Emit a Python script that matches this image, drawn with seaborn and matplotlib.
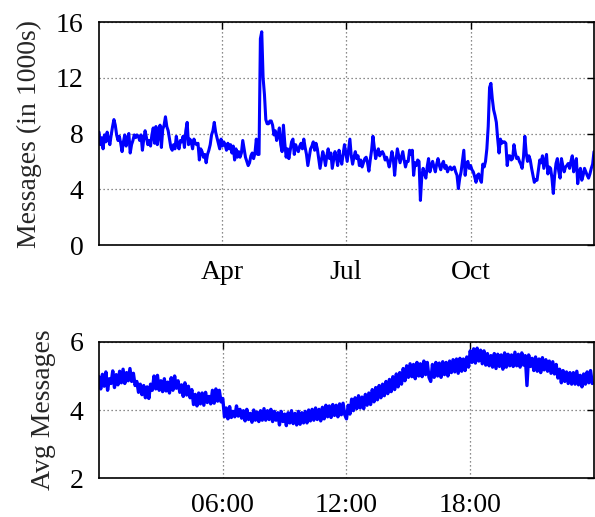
import numpy as np
import pandas as pd
import matplotlib
matplotlib.use('Agg')
import matplotlib.pyplot as plt
import matplotlib.dates as mdates
from matplotlib.ticker import FixedLocator, FuncFormatter
import seaborn as sns

sns.set_style('white')
plt.rcParams.update({
    "font.family": "Liberation Serif",
    "font.size": 20})


# daily message counts (in 1000s), Jan 1 to Dec 31
daily_msgs = [
    8.1, 7.2, 7.7, 6.9, 7.9, 7.4, 8.1, 7.6, 7.2, 7.9,
    8.5, 9.0, 8.6, 7.9, 7.5, 7.8, 7.3, 6.7, 7.4, 7.9,
    7.1, 7.6, 8.0, 6.6, 7.2, 7.5, 7.9, 7.7, 7.9, 7.8,
    7.5, 7.9, 6.8, 7.6, 8.2, 7.7, 7.2, 7.5, 7.1, 7.9,
    8.4, 7.3, 8.5, 7.2, 8.0, 8.6, 7.0, 8.3, 8.6, 9.2,
    8.5, 8.2, 7.6, 7.0, 6.8, 7.2, 6.9, 7.8, 7.2, 6.9,
    7.5, 7.4, 7.8, 7.0, 8.2, 8.8, 7.2, 7.6, 7.4, 6.9,
    7.6, 7.3, 7.2, 7.3, 6.1, 6.9, 6.7, 6.3, 6.5, 5.9,
    6.5, 6.8, 7.2, 7.9, 8.2, 8.8, 8.1, 7.7, 7.3, 6.9,
    7.6, 7.1, 7.4, 7.2, 6.8, 7.3, 6.9, 7.2, 6.6, 7.1,
    6.1, 6.9, 6.3, 6.7, 6.3, 6.6, 7.5, 6.9, 6.3, 6.0,
    5.7, 5.9, 6.4, 6.6, 6.2, 6.6, 7.6, 6.5, 6.5, 14.8,
    15.3, 12.0, 10.8, 9.0, 8.7, 8.7, 8.9, 8.9, 8.6, 7.9,
    8.2, 7.5, 7.9, 8.4, 7.2, 6.7, 8.6, 7.3, 6.3, 6.9,
    6.2, 6.8, 7.4, 7.6, 6.5, 7.2, 6.9, 6.7, 7.1, 7.3,
    6.9, 7.6, 7.0, 6.5, 5.7, 6.3, 6.9, 7.1, 7.4, 6.8,
    7.3, 6.9, 6.2, 5.5, 6.1, 6.7, 6.3, 5.7, 6.4, 6.9,
    6.2, 6.6, 5.5, 6.1, 6.7, 6.3, 5.7, 6.8, 6.2, 5.8,
    6.5, 7.2, 6.6, 6.0, 6.8, 7.6, 6.4, 5.8, 6.3, 6.7,
    6.2, 6.4, 5.7, 6.1, 5.6, 5.9, 6.2, 6.3, 5.9, 5.3,
    6.1, 6.8, 7.8, 7.0, 6.2, 6.6, 6.9, 6.4, 6.6, 6.7,
    6.5, 6.1, 6.3, 6.0, 5.6, 6.1, 6.7, 6.2, 5.0, 6.1,
    6.9, 6.4, 5.9, 6.3, 6.7, 6.1, 5.6, 6.0, 6.0, 6.8,
    6.5, 6.8, 5.0, 5.9, 5.7, 6.1, 6.0, 3.2, 4.9, 5.5,
    5.1, 4.8, 5.6, 6.2, 5.25, 5.7, 6.0, 5.6, 5.25, 5.8,
    6.2, 5.7, 5.4, 5.8, 6.0, 5.5, 5.7, 5.25, 5.5, 5.6,
    5.4, 5.5, 5.6, 5.25, 5.0, 4.05, 4.8, 5.25, 6.0, 6.8,
    5.0, 5.8, 6.0, 5.5, 5.7, 5.4, 5.25, 4.9, 4.5, 5.0,
    5.1, 4.7, 4.5, 5.8, 5.6, 6.0, 6.9, 8.5, 11.3, 11.6,
    10.5, 9.7, 9.3, 8.8, 7.6, 6.6, 7.6, 7.3, 7.4, 7.4,
    7.3, 5.7, 6.4, 6.4, 6.1, 6.2, 7.2, 6.6, 6.2, 6.3,
    6.0, 5.8, 5.5, 6.3, 7.8, 6.6, 6.0, 6.4, 6.1, 5.5,
    5.0, 4.5, 4.7, 4.65, 5.4, 6.1, 5.9, 6.4, 5.5, 6.0,
    6.5, 5.1, 5.6, 5.5, 4.8, 3.7, 5.0, 5.85, 6.2, 5.3,
    4.8, 6.2, 5.7, 5.25, 5.6, 5.7, 5.85, 5.5, 6.0, 6.4,
    5.25, 5.8, 6.2, 4.4, 5.2, 5.5, 4.65, 5.0, 5.5, 5.25,
    5.0, 4.8, 5.1, 5.5, 5.8, 6.7]
days = pd.date_range('2012-01-01', periods=len(daily_msgs), freq='D')

# average messages per 5 minutes over the day (one row per hour)
avg_msgs = [
    4.98, 4.62, 5.05, 4.70, 5.12, 4.58, 4.92, 4.78, 5.15, 4.66, 5.04, 4.74,
    5.14, 4.80, 5.20, 4.78, 5.10, 4.86, 5.22, 4.84, 5.08, 4.72, 4.84, 4.52,
    4.76, 4.45, 4.72, 4.36, 4.68, 4.34, 4.76, 4.58, 5.00, 4.62, 5.02, 4.58,
    4.86, 4.54, 4.92, 4.56, 4.82, 4.50, 4.95, 4.58, 5.00, 4.64, 4.86, 4.52,
    4.74, 4.40, 4.80, 4.44, 4.70, 4.36, 4.60, 4.16, 4.46, 4.12, 4.50, 4.18,
    4.50, 4.14, 4.52, 4.22, 4.40, 4.18, 4.58, 4.20, 4.62, 4.26, 4.58, 4.24,
    4.34, 3.80, 4.06, 3.74, 4.10, 3.78, 3.96, 3.80, 4.12, 3.82, 4.02, 3.76,
    3.98, 3.68, 4.02, 3.72, 3.90, 3.64, 4.00, 3.70, 3.94, 3.66, 3.98, 3.70,
    4.04, 3.70, 3.98, 3.72, 4.02, 3.66, 3.96, 3.70, 3.92, 3.56, 3.96, 3.66,
    3.88, 3.54, 3.92, 3.62, 3.98, 3.60, 3.90, 3.56, 3.96, 3.58, 3.92, 3.62,
    3.96, 3.62, 4.00, 3.68, 4.02, 3.70, 4.06, 3.72, 4.02, 3.68, 4.08, 3.74,
    4.14, 3.80, 4.12, 3.78, 4.16, 3.84, 4.14, 3.80, 4.18, 3.86, 4.20, 3.86,
    3.74, 4.14, 3.88, 4.32, 3.98, 4.36, 4.04, 4.42, 4.06, 4.38, 4.04, 4.46,
    4.14, 4.50, 4.16, 4.60, 4.24, 4.66, 4.30, 4.72, 4.36, 4.76, 4.42, 4.84,
    4.48, 4.90, 4.54, 4.98, 4.60, 5.06, 4.68, 5.10, 4.76, 5.22, 4.86, 5.30,
    4.96, 5.36, 4.98, 5.34, 4.92, 5.40, 5.00, 5.36, 4.98, 5.44, 5.04, 5.40,
    4.96, 4.84, 5.34, 4.96, 5.40, 5.00, 5.38, 4.96, 5.42, 5.04, 5.40, 5.00,
    5.44, 5.10, 5.48, 5.12, 5.50, 5.08, 5.52, 5.14, 5.50, 5.16, 5.56, 5.26,
    5.74, 5.40, 5.80, 5.38, 5.82, 5.44, 5.76, 5.36, 5.74, 5.32, 5.66, 5.30,
    5.60, 5.26, 5.66, 5.22, 5.64, 5.28, 5.62, 5.20, 5.68, 5.26, 5.64, 5.30,
    5.62, 5.28, 5.70, 5.30, 5.64, 5.26, 5.68, 5.32, 5.60, 4.72, 5.62, 5.28,
    5.52, 5.16, 5.56, 5.14, 5.50, 5.10, 5.54, 5.18, 5.48, 5.14, 5.44, 5.08,
    5.42, 5.06, 5.34, 4.94, 5.20, 4.80, 5.16, 4.84, 5.12, 4.78, 5.10, 4.76,
    5.10, 4.76, 5.14, 4.74, 5.02, 4.68, 5.06, 4.76, 5.12, 4.80, 5.16, 4.78]
hours = np.arange(len(avg_msgs)) * 5 / 60.0

daily_df = pd.DataFrame({'day': days, 'msgs': daily_msgs})
hourly_df = pd.DataFrame({'hour': hours, 'msgs': avg_msgs})

fig = plt.figure(figsize=(5.95, 5.17), dpi=100)
ax1 = fig.add_axes([0.1664, 0.5261, 0.8319, 0.4313])
ax2 = fig.add_axes([0.1664, 0.0754, 0.8319, 0.2631])

grid_kw = dict(color='#666666', linestyle=(0, (1, 2.2)), linewidth=0.9)

sns.lineplot(data=daily_df, x='day', y='msgs', ax=ax1, color='#0000ff', linewidth=2.2)
ax1.set_xlim(days[0], days[-1])
ax1.set_ylim(0, 16)
ax1.set_yticks([0, 4, 8, 12, 16])
ax1.xaxis.set_major_locator(mdates.MonthLocator(bymonth=[4, 7, 10]))
ax1.xaxis.set_major_formatter(mdates.DateFormatter('%b'))
ax1.set_xlabel('')
ax1.set_ylabel('Messages (in 1000s)', labelpad=10)

sns.lineplot(data=hourly_df, x='hour', y='msgs', ax=ax2, color='#0000ff', linewidth=2.4)
ax2.set_xlim(0, 24)
ax2.set_ylim(2, 6)
ax2.set_yticks([2, 4, 6])
ax2.xaxis.set_major_locator(FixedLocator([6, 12, 18]))
ax2.xaxis.set_major_formatter(FuncFormatter(lambda v, p: '%02d:00' % int(v)))
ax2.set_xlabel('')
ax2.set_ylabel('Avg Messages', labelpad=10)

for ax in (ax1, ax2):
    ax.grid(True, **grid_kw)
    ax.tick_params(direction='in', length=5, width=1, top=True, right=True,
                   colors='black', labelsize=20, pad=11)
    for s in ax.spines.values():
        s.set_visible(True)
        s.set_color('black')
        s.set_linewidth(1.2)

plt.savefig('out.png', dpi=100)
